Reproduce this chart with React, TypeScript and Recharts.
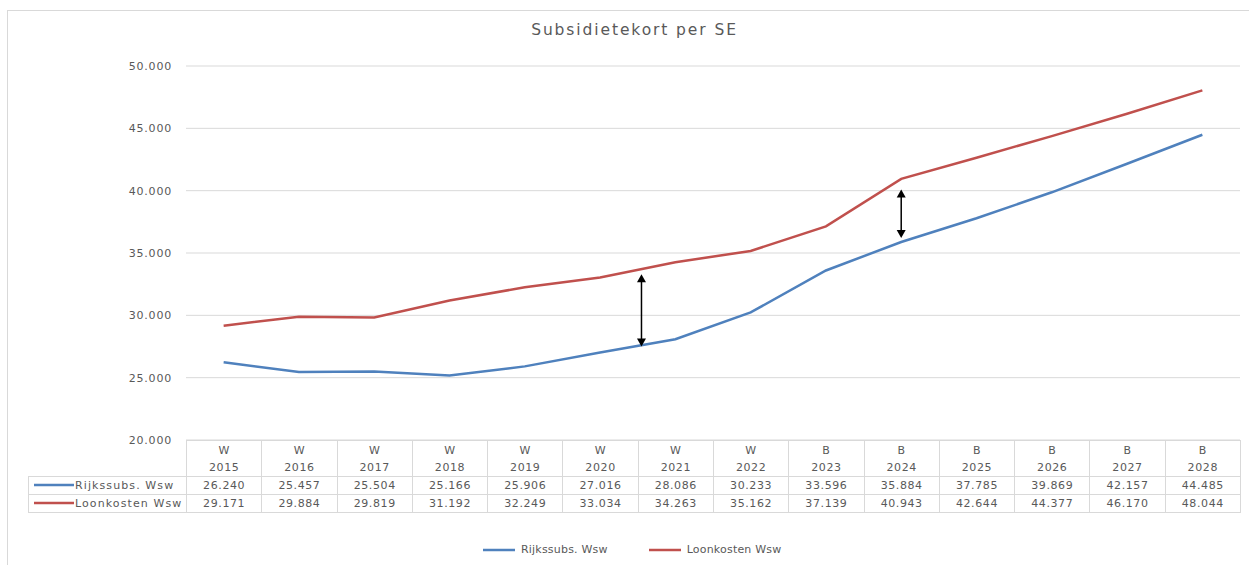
import { LineChart, Line, XAxis, YAxis, CartesianGrid, ReferenceLine } from 'recharts'

const prefixes = ['W', 'W', 'W', 'W', 'W', 'W', 'W', 'W', 'B', 'B', 'B', 'B', 'B', 'B']
const years = ['2015', '2016', '2017', '2018', '2019', '2020', '2021', '2022', '2023', '2024', '2025', '2026', '2027', '2028']
const rijkssubs = [26240, 25457, 25504, 25166, 25906, 27016, 28086, 30233, 33596, 35884, 37785, 39869, 42157, 44485]
const loonkosten = [29171, 29884, 29819, 31192, 32249, 33034, 34263, 35162, 37139, 40943, 42644, 44377, 46170, 48044]
const yTicks = [20000, 25000, 30000, 35000, 40000, 45000, 50000]

// the two gap arrows drawn on top of the chart (x = category position)
const arrowPos = [5.55, 9]
const arrowTop = [33300, 40100]
const arrowBottom = [27500, 36200]

const BLUE = '#4f81bd'
const RED = '#c0504d'
const TEXT = '#595959'
const GRID = '#d9d9d9'
const FONT = '"DejaVu Sans", sans-serif'

const series = [
  { key: 'rijks', name: 'Rijkssubs. Wsw', color: BLUE, values: rijkssubs },
  { key: 'loon', name: 'Loonkosten Wsw', color: RED, values: loonkosten },
]

const data = years.map((year, i) => ({
  idx: i,
  label: `${prefixes[i]} ${year}`,
  rijks: rijkssubs[i],
  loon: loonkosten[i],
}))

const fmt = (n: number) => String(n).replace(/\B(?=(\d{3})+(?!\d))/g, '.')

const Arrow = (props: any) => {
  const { x1, y1, x2, y2 } = props
  const head = 7
  return (
    <g>
      <line x1={x1} y1={y1 + head} x2={x2} y2={y2 - head} stroke="#000" strokeWidth={1.5} />
      <polygon points={`${x1},${y1} ${x1 - 4.5},${y1 + head + 1} ${x1 + 4.5},${y1 + head + 1}`} fill="#000" />
      <polygon points={`${x2},${y2} ${x2 - 4.5},${y2 - head - 1} ${x2 + 4.5},${y2 - head - 1}`} fill="#000" />
    </g>
  )
}

const COL_W = (1240 - 186) / years.length

export default function App() {
  const cell = {
    border: `1px solid ${GRID}`,
    textAlign: 'center' as const,
    padding: 0,
    color: TEXT,
  }
  return (
    <div style={{ position: 'fixed', left: 0, top: 0, width: 1249, height: 565, background: '#fff', overflow: 'hidden' }}>
      <div style={{ position: 'absolute', left: 7, top: 10, width: 1300, height: 600, border: `1px solid ${GRID}` }} />
      <div
        style={{
          position: 'absolute',
          left: 0,
          width: 1269,
          top: 21,
          textAlign: 'center',
          fontFamily: FONT,
          fontSize: 15.5,
          letterSpacing: 1.9,
          color: TEXT,
        }}
      >
        Subsidietekort per SE
      </div>
      <div style={{ position: 'absolute', left: 0, top: 0 }}>
        <LineChart width={1249} height={565} data={data} margin={{ top: 66, right: 9, bottom: 125, left: 126 }}>
          <CartesianGrid vertical={false} stroke={GRID} />
          <XAxis dataKey="idx" type="number" domain={[-0.5, years.length - 0.5]} hide />
          <YAxis
            width={60}
            domain={[20000, 50000]}
            ticks={yTicks}
            tickFormatter={fmt}
            axisLine={false}
            tickLine={false}
            tickSize={0}
            tickMargin={14}
            tick={{ fill: TEXT, fontSize: 11, fontFamily: FONT, letterSpacing: 0.8 }}
          />
          {series.map((s) => (
            <Line
              key={s.key}
              dataKey={s.key}
              name={s.name}
              stroke={s.color}
              strokeWidth={2.5}
              dot={false}
              isAnimationActive={false}
            />
          ))}
          {arrowPos.map((p, i) => (
            <ReferenceLine
              key={i}
              segment={[
                { x: p, y: arrowTop[i] },
                { x: p, y: arrowBottom[i] },
              ]}
              shape={Arrow}
            />
          ))}
        </LineChart>
      </div>
      <div
        style={{
          position: 'absolute',
          left: 483,
          top: 543,
          display: 'flex',
          fontFamily: FONT,
          fontSize: 11,
          color: TEXT,
          letterSpacing: 0.2,
        }}
      >
        {series.map((s) => (
          <div key={s.key} style={{ display: 'flex', alignItems: 'center', marginRight: 41 }}>
            <svg width={33} height={10}>
              <line x1={0} y1={5} x2={32} y2={5} stroke={s.color} strokeWidth={2.5} />
            </svg>
            <span style={{ marginLeft: 5 }}>{s.name}</span>
          </div>
        ))}
      </div>
      <table
        style={{
          position: 'absolute',
          left: 28,
          top: 440,
          borderCollapse: 'collapse',
          tableLayout: 'fixed',
          width: 1212,
          fontFamily: FONT,
          fontSize: 11,
          letterSpacing: 0.6,
        }}
      >
        <colgroup>
          <col style={{ width: 158 }} />
          {years.map((y) => (
            <col key={y} style={{ width: COL_W }} />
          ))}
        </colgroup>
        <tbody>
          <tr style={{ height: 36 }}>
            <td style={{ border: 'none' }} />
            {years.map((y, i) => (
              <td key={y} style={{ ...cell, lineHeight: '17px' }}>
                {prefixes[i]}
                <br />
                {y}
              </td>
            ))}
          </tr>
          {series.map((s) => (
            <tr key={s.key} style={{ height: 18 }}>
              <td style={{ ...cell, textAlign: 'left', whiteSpace: 'nowrap', letterSpacing: 1.1 }}>
                <span style={{ display: 'inline-flex', alignItems: 'center' }}>
                  <svg width={42} height={8} style={{ marginLeft: 4 }}>
                    <line x1={1} y1={4} x2={41} y2={4} stroke={s.color} strokeWidth={2.5} />
                  </svg>
                  {s.name}
                </span>
              </td>
              {s.values.map((v, i) => (
                <td key={i} style={cell}>
                  {fmt(v)}
                </td>
              ))}
            </tr>
          ))}
        </tbody>
      </table>
    </div>
  )
}
